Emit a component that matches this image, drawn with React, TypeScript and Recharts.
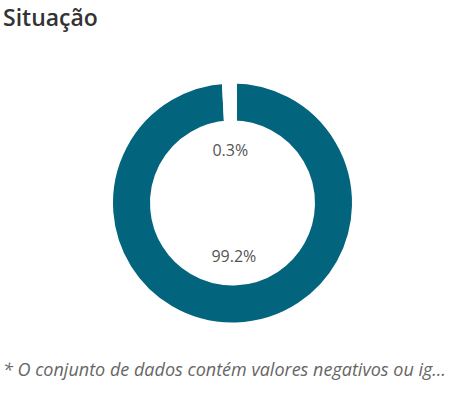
import { PieChart, Pie, Cell } from 'recharts'

const categories = ['Regular', 'Irregular', 'Outros']
const shares = [99.2, 0.3, 0.5]
const shareLabels = ['99.2%', '0.3%', '']
const sliceColors = ['#02647D', '#ffffff', '#ffffff']

const data = categories.map((name, i) => ({ name, value: shares[i], label: shareLabels[i] }))

const RAD = Math.PI / 180

function renderLabel(props: any) {
    const { cx, cy, midAngle, index } = props
    const text = shareLabels[index]
    if (!text) return null
    const r = 53
    const x = cx + r * Math.cos(-midAngle * RAD)
    const y = cy + r * Math.sin(-midAngle * RAD)
    return (
        <text
            x={x}
            y={y}
            textAnchor="middle"
            dominantBaseline="central"
            fill="#555"
            fontSize={16}
            fontFamily="'Open Sans', sans-serif"
        >
            {text}
        </text>
    )
}

export default function App() {
    return (
        <div style={{ position: 'absolute', left: 0, top: 0, width: 467, height: 396, background: '#fff', overflow: 'hidden' }}>
            <div
                style={{
                    position: 'absolute',
                    left: 3,
                    top: 1,
                    fontFamily: "'Open Sans', sans-serif",
                    fontWeight: 600,
                    fontSize: 23,
                    color: '#333',
                }}
            >
                Situação
            </div>

            <div style={{ position: 'absolute', left: 0, top: 0 }}>
                <PieChart width={467} height={396} margin={{ top: 0, right: 0, bottom: 0, left: 0 }}>
                    <Pie
                        data={data}
                        dataKey="value"
                        nameKey="name"
                        cx={232.5}
                        cy={203}
                        innerRadius={78}
                        outerRadius={124}
                        startAngle={90}
                        endAngle={-270}
                        stroke="#fff"
                        strokeWidth={9}
                        label={renderLabel}
                        labelLine={false}
                        isAnimationActive={false}
                    >
                        {data.map((d, i) => (
                            <Cell key={d.name} fill={sliceColors[i]} stroke="#fff" strokeWidth={9} />
                        ))}
                    </Pie>
                </PieChart>
            </div>

            <div
                style={{
                    position: 'absolute',
                    left: 3,
                    top: 357,
                    whiteSpace: 'nowrap',
                    fontFamily: "'Open Sans', sans-serif",
                    fontStyle: 'italic',
                    fontSize: 18,
                    color: '#666',
                }}
            >
                * O conjunto de dados contém valores negativos ou ig…
            </div>
        </div>
    )
}
